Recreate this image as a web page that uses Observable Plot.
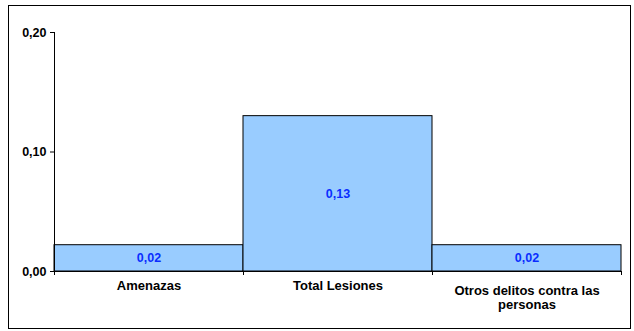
<!DOCTYPE html>
<html><head><meta charset="utf-8">
<script src="https://cdn.jsdelivr.net/npm/d3@7"></script>
<script src="https://cdn.jsdelivr.net/npm/@observablehq/plot@0.6"></script>
<style>
body{margin:0;background:#fff;}
#wrap{position:relative;width:634px;height:331px;}
#frame{position:absolute;left:8px;top:5px;width:621px;height:322px;border:1px solid #000;pointer-events:none;}
</style></head><body><div id="wrap"><div id="frame"></div></div>
<script>
const categories = ["Amenazas", "Total Lesiones", "Otros delitos contra las personas"];
const values = [0.022, 0.13, 0.022];
const valueLabels = ["0,02", "0,13", "0,02"];
const yTicks = [0, 0.10, 0.20];

const data = categories.map((c, i) => ({c, i, v: values[i], label: valueLabels[i]}));
const fmt = d => d3.format(".2f")(d).replace(".", ",");
const catLabel = d => categories[Math.floor(d)];
const centers = categories.map((c, i) => i + 0.5);

const chart = Plot.plot({
  width: 634, height: 331,
  marginLeft: 54, marginRight: 13, marginTop: 32, marginBottom: 60,
  style: {fontFamily: "'Liberation Sans', Arial, sans-serif", fontSize: "12.5px", fontWeight: "bold", color: "#000", background: "transparent", overflow: "visible"},
  x: {type: "linear", domain: [0, categories.length], axis: null},
  y: {domain: [0, 0.2], axis: null},
  marks: [
    Plot.rect(data, {x1: "i", x2: d => d.i + 1, y1: 0, y2: "v", fill: "#99CCFF", stroke: "#000", strokeWidth: 1}),
    Plot.ruleY([0], {stroke: "#000"}),
    Plot.ruleX([0], {stroke: "#000"}),
    Plot.axisY({ticks: yTicks, tickFormat: fmt, tickSize: 4, tickPadding: 4, label: null, stroke: "#000", fill: "#000", fontSize: 12.5, fontWeight: "bold"}),
    Plot.axisX({ticks: d3.range(categories.length + 1), tickFormat: () => "", tickSize: 4, label: null, stroke: "#000"}),
    Plot.axisX({ticks: centers.slice(0, 2), tickFormat: catLabel, tickSize: 0, tickPadding: 9, label: null, fill: "#000", fontSize: 13, fontWeight: "bold"}),
    Plot.axisX({ticks: centers.slice(2), tickFormat: catLabel, tickSize: 0, tickPadding: 14, lineWidth: 14, lineHeight: 1.05, label: null, fill: "#000", fontSize: 13, fontWeight: "bold"}),
    Plot.text(data, {x: d => d.i + 0.5, y: d => d.v / 2, text: "label", fill: "#0A2CFF", fontSize: 12.5, fontWeight: "bold"})
  ]
});
document.getElementById("wrap").prepend(chart);
</script>
</body></html>
